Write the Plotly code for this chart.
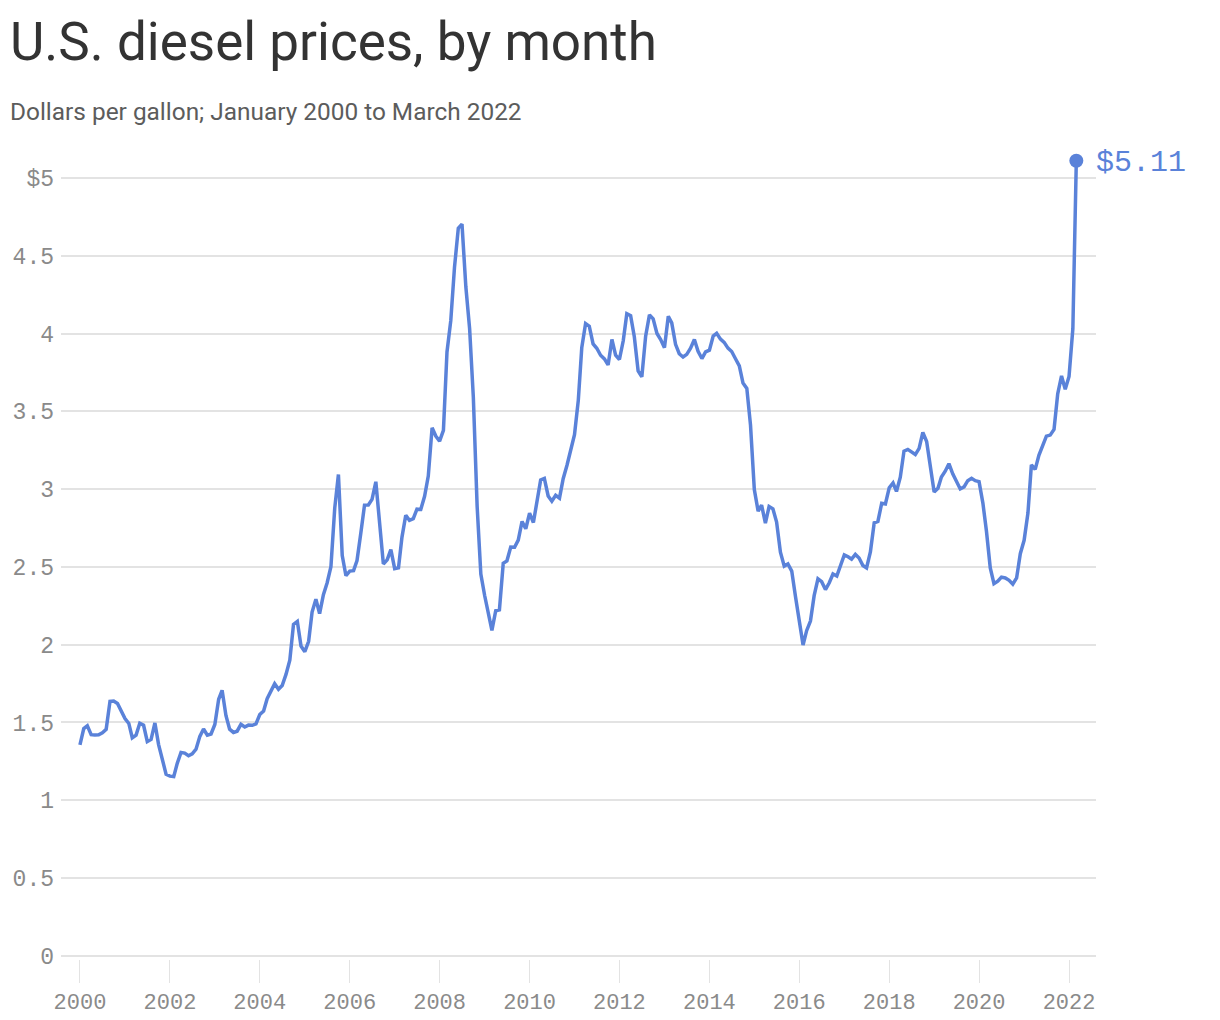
import pandas as pd
import plotly.graph_objects as go

# Monthly U.S. on-highway diesel prices ($/gal)
p2000 = [1.356, 1.461, 1.479, 1.422, 1.420, 1.421, 1.434, 1.456, 1.636, 1.638, 1.622, 1.569]
p2001 = [1.525, 1.494, 1.402, 1.419, 1.495, 1.482, 1.378, 1.392, 1.497, 1.358, 1.268, 1.167]
p2002 = [1.155, 1.152, 1.236, 1.307, 1.303, 1.286, 1.299, 1.328, 1.411, 1.458, 1.419, 1.426]
p2003 = [1.487, 1.649, 1.707, 1.545, 1.457, 1.436, 1.444, 1.488, 1.471, 1.483, 1.482, 1.491]
p2004 = [1.551, 1.574, 1.653, 1.698, 1.749, 1.714, 1.738, 1.809, 1.900, 2.131, 2.150, 1.991]
p2005 = [1.955, 2.022, 2.210, 2.292, 2.200, 2.321, 2.397, 2.501, 2.878, 3.094, 2.573, 2.443]
p2006 = [2.473, 2.476, 2.541, 2.718, 2.897, 2.898, 2.934, 3.047, 2.795, 2.519, 2.545, 2.611]
p2007 = [2.489, 2.494, 2.690, 2.832, 2.799, 2.810, 2.871, 2.869, 2.954, 3.084, 3.394, 3.341]
p2008 = [3.308, 3.377, 3.881, 4.084, 4.425, 4.677, 4.703, 4.302, 4.030, 3.591, 2.889, 2.454]
p2009 = [2.316, 2.199, 2.092, 2.218, 2.224, 2.523, 2.539, 2.627, 2.626, 2.672, 2.792, 2.745]
p2010 = [2.845, 2.785, 2.915, 3.059, 3.069, 2.956, 2.922, 2.960, 2.942, 3.067, 3.153, 3.241]
p2011 = [3.349, 3.572, 3.908, 4.064, 4.047, 3.933, 3.905, 3.860, 3.837, 3.798, 3.962, 3.861]
p2012 = [3.833, 3.953, 4.127, 4.115, 3.979, 3.759, 3.721, 3.983, 4.120, 4.094, 4.000, 3.961]
p2013 = [3.909, 4.111, 4.068, 3.930, 3.870, 3.849, 3.866, 3.905, 3.961, 3.885, 3.839, 3.882]
p2014 = [3.893, 3.984, 4.001, 3.964, 3.943, 3.906, 3.884, 3.838, 3.792, 3.681, 3.647, 3.411]
p2015 = [2.997, 2.858, 2.897, 2.782, 2.888, 2.873, 2.788, 2.595, 2.505, 2.519, 2.473, 2.311]
p2016 = [2.143, 1.998, 2.090, 2.152, 2.315, 2.423, 2.405, 2.354, 2.398, 2.454, 2.441, 2.516]
p2017 = [2.577, 2.565, 2.550, 2.580, 2.557, 2.509, 2.493, 2.596, 2.783, 2.792, 2.909, 2.905]
p2018 = [3.008, 3.039, 2.985, 3.076, 3.244, 3.255, 3.238, 3.222, 3.262, 3.364, 3.306, 3.131]
p2019 = [2.982, 3.005, 3.078, 3.115, 3.163, 3.098, 3.047, 3.001, 3.014, 3.054, 3.069, 3.054]
p2020 = [3.048, 2.910, 2.729, 2.493, 2.392, 2.408, 2.434, 2.429, 2.414, 2.389, 2.429, 2.585]
p2021 = [2.671, 2.846, 3.155, 3.127, 3.217, 3.287, 3.340, 3.347, 3.384, 3.612, 3.727, 3.641]
p2022 = [3.724, 4.031, 5.110]

prices = (p2000 + p2001 + p2002 + p2003 + p2004 + p2005 + p2006 + p2007 + p2008 +
          p2009 + p2010 + p2011 + p2012 + p2013 + p2014 + p2015 + p2016 + p2017 +
          p2018 + p2019 + p2020 + p2021 + p2022)
months = pd.date_range("2000-01-01", periods=len(prices), freq="MS")

y_tickvals = [0, 0.5, 1, 1.5, 2, 2.5, 3, 3.5, 4, 4.5, 5]
y_ticktext = ["0", "0.5", "1", "1.5", "2", "2.5", "3", "3.5", "4", "4.5", "$5"]

BLUE = "#5a82d9"
MONO = "Liberation Mono, DejaVu Sans Mono, monospace"
SANS = "Roboto, Inter, Noto Sans, sans-serif"

fig = go.Figure()
fig.add_trace(go.Scatter(x=months, y=prices, mode="lines",
                         line=dict(color=BLUE, width=3.5), hoverinfo="skip",
                         showlegend=False))
fig.add_trace(go.Scatter(x=[months[-1]], y=[prices[-1]], mode="markers",
                         marker=dict(color=BLUE, size=14), hoverinfo="skip",
                         showlegend=False))

fig.add_annotation(x=months[-1], y=prices[-1], xref="x", yref="y",
                   text="$" + f"{prices[-1]:.2f}", showarrow=False,
                   xanchor="left", yanchor="middle", xshift=18, yshift=-2,
                   font=dict(family=MONO, size=30, color=BLUE))

# Title and subtitle
H_PLOT = 820.0
BOTTOM = 959.0
fig.add_annotation(text="U.S. diesel prices, by month", xref="paper", yref="paper",
                   x=(8 - 61) / 1035, y=(BOTTOM - 42) / H_PLOT,
                   xanchor="left", yanchor="middle", showarrow=False,
                   font=dict(family=SANS, size=53, color="#333333"))
fig.add_annotation(text="Dollars per gallon; January 2000 to March 2022", xref="paper", yref="paper",
                   x=(8 - 61) / 1035, y=(BOTTOM - 112) / H_PLOT,
                   xanchor="left", yanchor="middle", showarrow=False,
                   font=dict(family=SANS, size=24.4, color="#5c5c5c"))

fig.update_layout(
    width=1220, height=1020,
    margin=dict(l=61, r=124, t=139, b=61, autoexpand=False),
    paper_bgcolor="white", plot_bgcolor="white",
    xaxis=dict(type="date", range=["1999-07-31", "2022-08-08"],
               tick0="2000-01-01", dtick="M24", tickformat="%Y",
               showgrid=False, zeroline=False, showline=False, automargin=False,
               ticks="outside", ticklen=23, tickcolor="#e3e3e3", tickwidth=1,
               tickfont=dict(family=MONO, size=22, color="#8a8a8a")),
    yaxis=dict(range=[-0.02, 5.25], tickvals=y_tickvals, ticktext=y_ticktext,
               showgrid=True, gridcolor="#e3e3e3", gridwidth=1.5, automargin=False,
               zeroline=False, showline=False, ticks="",
               ticklabelstandoff=6,
               tickfont=dict(family=MONO, size=23, color="#8a8a8a")),
)

fig.write_html("out.html")
